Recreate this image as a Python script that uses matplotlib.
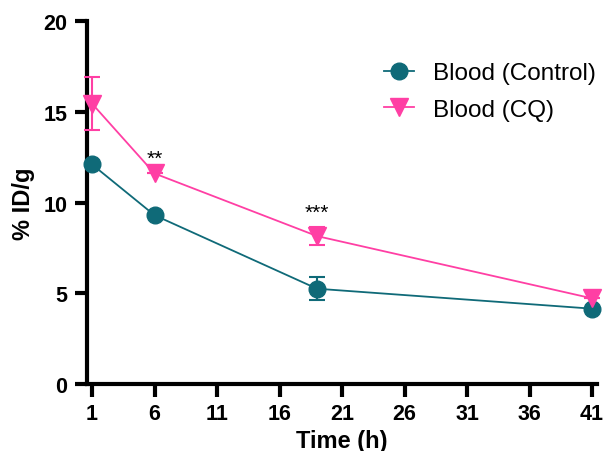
import matplotlib
matplotlib.use("Agg")
import matplotlib.pyplot as plt
from matplotlib.lines import Line2D

time = [1, 6, 19, 41]
control = [12.1, 9.3, 5.25, 4.15]
control_err = [0, 0, 0.62, 0]
cq = [15.45, 11.6, 8.15, 4.72]
cq_err = [1.45, 0, 0.5, 0]
xticks = [1, 6, 11, 16, 21, 26, 31, 36, 41]
yticks = [0, 5, 10, 15, 20]
sig = [(6, "**"), (19, "***")]

teal = "#0F6A78"
pink = "#FF3FA4"

plt.rcParams['font.family'] = ['Liberation Sans', 'DejaVu Sans']
fig = plt.figure(figsize=(6.04, 4.52), dpi=100)
ax = fig.add_axes([87/604, 1-385/452, (597-87)/604, (385-22)/452])

ax.errorbar(time, control, yerr=control_err, color=teal, marker='o', markersize=12,
            lw=1.3, capsize=6, elinewidth=1.5, capthick=1.5, zorder=3, clip_on=False)
ax.errorbar(time, cq, yerr=cq_err, color=pink, marker='v', markersize=13,
            lw=1.3, capsize=6, elinewidth=1.5, capthick=1.5, zorder=3, clip_on=False)

for x, s in sig:
    i = time.index(x)
    ax.text(x, cq[i] + cq_err[i] + 0.3, s, ha='center', va='bottom', fontsize=15)

ax.set_xlim(0.6, 41.4)
ax.set_ylim(0, 20)
ax.set_xticks(xticks)
ax.set_yticks(yticks)
for lab in ax.get_xticklabels() + ax.get_yticklabels():
    lab.set_fontweight('bold')
ax.tick_params(axis='both', labelsize=15.5, width=3, length=9, pad=5)
for s in ['top', 'right']:
    ax.spines[s].set_visible(False)
for s in ['left', 'bottom']:
    ax.spines[s].set_linewidth(3)
ax.set_xlabel('Time (h)', fontsize=17, fontweight='bold', labelpad=3)
ax.set_ylabel('% ID/g', fontsize=17, fontweight='bold', labelpad=6)

handles = [Line2D([], [], color=teal, marker='o', markersize=12, lw=1.3),
           Line2D([], [], color=pink, marker='v', markersize=13, lw=1.3)]
ax.legend(handles, ['Blood (Control)', 'Blood (CQ)'], loc='upper right',
          bbox_to_anchor=(1.04, 0.946), frameon=False, fontsize=17.5,
          handlelength=1.25, handletextpad=0.75, labelspacing=0.58)

fig.savefig('out.png', dpi=100)
